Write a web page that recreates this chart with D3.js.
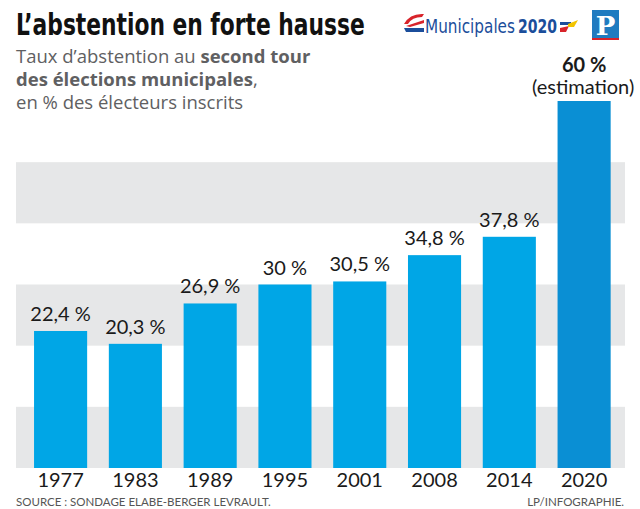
<!DOCTYPE html>
<html><head><meta charset="utf-8">
<script src="https://cdn.jsdelivr.net/npm/d3@7"></script>
<style>body{margin:0;background:#fff}svg{display:block}</style>
</head><body>
<script>
const years = ["1977","1983","1989","1995","2001","2008","2014","2020"];
const values = [22.4,20.3,26.9,30,30.5,34.8,37.8,60];
const valueLabels = ["22,4 %","20,3 %","26,9 %","30 %","30,5 %","34,8 %","37,8 %","60 %"];
const bandStarts = [0,20,40];
const title = "L\u2019abstention en forte hausse";
const source = "SOURCE : SONDAGE ELABE-BERGER LEVRAULT.";
const credit = "LP/INFOGRAPHIE.";

const W=640,H=509;
const svg=d3.select("body").append("svg").attr("width",W).attr("height",H);
const x=d3.scaleBand().domain(years).range([23.2,621.5]).paddingInner(0.29).paddingOuter(0.145);
const y=d3.scaleLinear().domain([0,60]).range([468,101]);

// fit a text into a width by horizontal scaling
function fitText(sel, x0, y0, width){
  const w = sel.node().getComputedTextLength();
  sel.attr("transform", `translate(${x0},${y0}) scale(${width/w},1)`);
}

// gray bands
svg.selectAll("rect.band").data(bandStarts).join("rect").attr("class","band")
  .attr("x",16).attr("width",609)
  .attr("y",d=>y(d+10)).attr("height",d=>y(d)-y(d+10)).attr("fill","#e6e7e8");

// bars
svg.selectAll("rect.bar").data(values).join("rect").attr("class","bar")
  .attr("x",(d,i)=>x(years[i])).attr("width",x.bandwidth())
  .attr("y",d=>y(d)).attr("height",d=>y(0)-y(d))
  .attr("fill",(d,i)=>i===years.length-1?"#0a8fd4":"#00a6e6");

// value labels
const font="Lato, 'Open Sans', sans-serif";
svg.selectAll("text.val").data(values.slice(0,-1)).join("text").attr("class","val")
  .attr("x",(d,i)=>x(years[i])+x.bandwidth()/2).attr("y",d=>y(d)-10)
  .attr("text-anchor","middle").attr("font-family",font).attr("font-size",20)
  .attr("fill","#1a1a1a").text((d,i)=>valueLabels[i]);
const last=years.length-1;
const cx=x(years[last])+x.bandwidth()/2;
const est=svg.append("text").attr("text-anchor","middle").attr("font-family",font)
  .attr("font-size",20).attr("fill","#1a1a1a");
est.append("tspan").attr("x",cx).attr("y",72).attr("font-weight","bold").text(valueLabels[last]);
est.append("tspan").attr("x",cx-1).attr("y",94).text("(estimation)");

// x axis labels
const xAxis=d3.axisBottom(x).tickSize(0).tickPadding(3);
const gx=svg.append("g").attr("transform","translate(0,468)").call(xAxis);
gx.select(".domain").remove();
gx.selectAll("text").attr("font-family",font).attr("font-size",20).attr("fill","#1a1a1a").attr("dy","0.78em");

// title
const tt=svg.append("text").attr("font-family","'DejaVu Sans Condensed','DejaVu Sans',sans-serif")
  .attr("font-weight","bold").attr("font-size",30).attr("fill","#111").text(title);
fitText(tt,16,35,349);

// subtitle
const sub=svg.append("text").attr("font-family","'Open Sans',sans-serif").attr("font-size",18.5).attr("fill","#606062");
sub.append("tspan").attr("x",16).attr("y",63).text("Taux d\u2019abstention au ");
sub.append("tspan").attr("font-weight","bold").text("second tour");
sub.append("tspan").attr("x",16).attr("y",86).attr("font-weight","bold").text("des élections municipales");
sub.append("tspan").text(",");
sub.append("tspan").attr("x",16).attr("y",109).text("en % des électeurs inscrits");

// footer
svg.append("text").attr("x",16).attr("y",506).attr("font-family",font).attr("font-size",11.5)
  .attr("fill","#555").text(source);
svg.append("text").attr("x",624).attr("y",506).attr("text-anchor","end").attr("font-family",font).attr("font-size",11.5)
  .attr("fill","#555").text(credit);

// Municipales 2020 logo
const lg=svg.append("g");
lg.append("path").attr("d","M404,24 Q410,13 424,14 L422,17 Q412,17 408,24 Z").attr("fill","#d8232a");
lg.append("path").attr("d","M406,26 L424,20 L424,23 L410,27 Z").attr("fill","#d8232a");
lg.append("path").attr("d","M404,28 L424,28 L424,32 L406,32 Z").attr("fill","#1b4e9b");
const m1=lg.append("text").attr("font-family","'DejaVu Sans Condensed',sans-serif")
  .attr("font-size",20).attr("fill","#1b4e9b").text("Municipales");
fitText(m1,425,33,90);
const m2=lg.append("text").attr("font-family","'DejaVu Sans Condensed',sans-serif")
  .attr("font-weight","bold").attr("font-size",20).attr("fill","#1b4e9b").text("2020");
fitText(m2,518,33,39);
lg.append("path").attr("d","M560,22 L571,22 L571,25 L560,25 Z").attr("fill","#1b4e9b");
lg.append("path").attr("d","M560,28 L569,26 L566,32 L560,32 Z").attr("fill","#d8232a");
lg.append("path").attr("d","M568,24 L578,20 L574,27 L568,27 Z").attr("fill","#f2c400");

// P logo
svg.append("rect").attr("x",592).attr("y",10).attr("width",27).attr("height",29).attr("fill","#1f7bc0");
svg.append("rect").attr("x",592).attr("y",38).attr("width",27).attr("height",2).attr("fill","#d8232a");
svg.append("text").attr("x",605.5).attr("y",35).attr("text-anchor","middle").attr("font-family","'DejaVu Serif',serif")
  .attr("font-weight","bold").attr("font-size",26).attr("fill","#fff").text("P");
</script>
</body></html>
